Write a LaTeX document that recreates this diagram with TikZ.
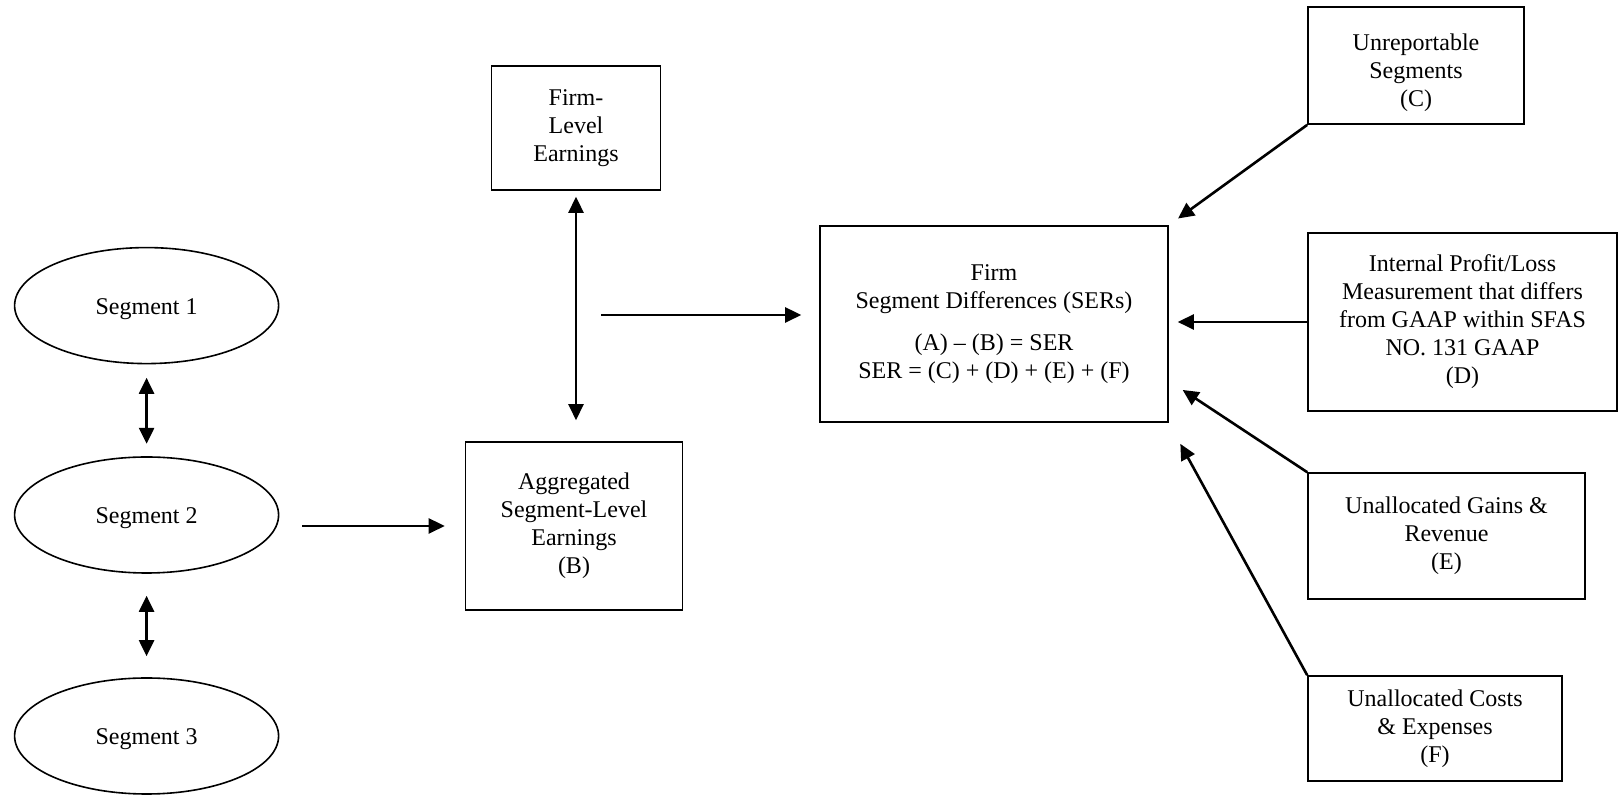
\documentclass[tikz,border=0pt]{standalone}
\usepackage{fontspec}
\setmainfont{Liberation Serif}
\usetikzlibrary{positioning,arrows.meta,calc,shapes.geometric}

\begin{document}
\begin{tikzpicture}[x=0.5pt,y=-0.5pt,
 box/.style={draw,line width=.8pt,align=center,inner sep=2pt,font=\fontsize{12}{14}\selectfont},
 seg/.style={ellipse,draw,line width=.8pt,minimum width=132pt,minimum height=58pt,inner sep=0pt,font=\fontsize{12}{14}\selectfont,execute at begin node=\rule{0pt}{11pt}},
 arr/.style={-{Triangle[length=8pt,width=7.5pt]},line width=1.3pt},
 dbl/.style={{Triangle[length=8pt,width=7.5pt]}-{Triangle[length=8pt,width=7.5pt]},line width=1.3pt}]
\useasboundingbox (0,0) rectangle (1619,795);
% segments
\node[seg] (s1) at (146.6,305.6) {Segment 1};
\node[seg] (s2) at (146.6,515) {Segment 2};
\node[seg] (s3) at (146.6,736) {Segment 3};
\draw[dbl,shorten <=6.7pt,shorten >=6.2pt](s1.south)--(s2.north);
\draw[dbl,shorten <=11pt,shorten >=10.5pt](s2.south)--(s3.north);
% earnings
\node[box,minimum width=84.5pt,minimum height=62pt] (firm) at (576,128) {Firm-\\Level\\Earnings};
\node[box,minimum width=108.5pt,minimum height=84pt] (agg) at (574,526) {Aggregated\\Segment-Level\\Earnings\\(B)};
\draw[arr,shorten <=11.5pt,shorten >=10pt](agg.west -| s2.east)--(agg.west);
\draw[dbl,shorten <=3pt,shorten >=10.5pt](firm.south)--(firm.south |- agg.north);
% differences
\node[box,minimum width=174pt,minimum height=98pt] (ser) at (994,324) {Firm\\Segment Differences (SERs)\\[7pt](A) -- (B) = SER\\SER = (C) + (D) + (E) + (F)};
\coordinate (fork) at (601,315);
\draw[arr,shorten >=9pt](fork)--(fork -| ser.west);
% sources of differences
\node[box,minimum width=108pt,minimum height=58.5pt] (unrep) at (1416,65.6) {\rule{0pt}{15pt}Unreportable\\Segments\\(C)};
\node[box,minimum width=154.5pt,minimum height=89pt] (gaap) at (1462.5,322) {Internal Profit/Loss\\Measurement that differs\\from GAAP within SFAS\\NO. 131 GAAP\\(D)};
\node[box,minimum width=138.5pt,minimum height=63pt] (gains) at (1446.5,536) {Unallocated Gains \&\\Revenue\\(E)};
\node[box,minimum width=127pt,minimum height=52.5pt] (costs) at (1435,728.5) {Unallocated Costs\\\& Expenses\\(F)};
\draw[arr,shorten >=5.7pt](unrep.south west)--(ser.north east);
\draw[arr,shorten >=4.5pt](gaap.west)--(gaap.west -| ser.east);
\draw[arr,shorten >=8.3pt](gains.north west)--(ser.-18.7);
\draw[arr,shorten >=12pt](costs.north west)--(ser.south east);
\end{tikzpicture}
\end{document}
